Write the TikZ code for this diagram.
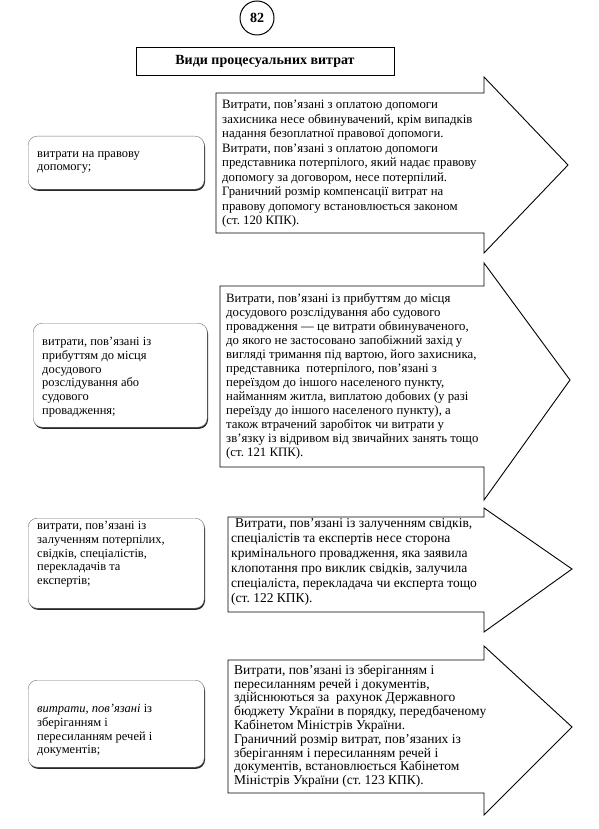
\documentclass[tikz,border=0pt]{standalone}
\usepackage{fontspec}
\setmainfont{Liberation Serif}
\usetikzlibrary{shadows}
\frenchspacing

\tikzset{
  kind/.style={draw=black!55, fill=white, rounded corners=9pt, anchor=north west,
    inner xsep=9pt, inner ysep=0pt, align=left, font=\fontsize{12.5}{13.8}\selectfont,
    drop shadow={shadow xshift=0.8pt, shadow yshift=-1.6pt, fill=black!85, opacity=1}},
  cost/.style={anchor=west, inner xsep=6pt, inner ysep=0pt, align=left},
  arrowline/.style={line width=0.9pt, line join=miter}
}

\begin{document}
\begin{tikzpicture}[x=1pt, y=-1pt]
            \useasboundingbox (0,0) rectangle (598,829);

            \node[draw, circle, line width=1pt, minimum size=34pt, inner sep=0pt, font=\bfseries\fontsize{14}{16}\selectfont] (page) at (257,18) {82};
            \node[draw, line width=0.9pt, minimum width=258pt, minimum height=28pt, font=\bfseries\fontsize{14}{16}\selectfont] (title) at (265,61) {Види процесуальних витрат};

            % left column
            \node[kind] (kind1) at (28,136) {\parbox[c][53pt][t]{158pt}{\raggedright\vspace*{15pt}витрати на правову\\допомогу;}};
            \node[kind] (kind2) at (33,323) {\parbox[c][104pt][t]{156pt}{\raggedright\vspace*{14pt}витрати, пов’язані із\\прибуттям до місця\\досудового\\розслідування або\\судового\\провадження;}};
            \node[kind] (kind3) at (28,518) {\parbox[c][90pt][t]{158pt}{\raggedright\vspace*{3pt}витрати, пов’язані із\\залученням потерпілих,\\свідків, спеціалістів,\\перекладачів та\\експертів;}};
            \node[kind] (kind4) at (28,680) {\parbox[c][87pt][t]{158pt}{\raggedright\vspace*{24pt}\textit{витрати, пов’язані} із\\зберіганням і\\пересиланням речей і\\документів;}};

            % arrows
            \draw[arrowline] (216,93) -- (484,93) -- (484,77) -- (568,165) -- (484,253) -- (484,233) -- (216,233) -- cycle;
            \node[cost, font=\fontsize{12.8}{14.5}\selectfont] (cost1) at (216,164) {Витрати, пов’язані з оплатою допомоги\\захисника несе обвинувачений, крім випадків\\надання безоплатної правової допомоги.\\Витрати, пов’язані з оплатою допомоги\\представника потерпілого, який надає правову\\допомогу за договором, несе потерпілий.\\Граничний розмір компенсації витрат на\\правову допомогу встановлюється законом\\(ст. 120 КПК).};

            \draw[arrowline] (220,286) -- (484,286) -- (484,263) -- (570,380) -- (484,500) -- (484,467) -- (220,467) -- cycle;
            \node[cost, font=\fontsize{12.8}{14}\selectfont] (cost2) at (220,376) {Витрати, пов’язані із прибуттям до місця\\досудового розслідування або судового\\провадження — це витрати обвинуваченого,\\до якого не застосовано запобіжний захід у\\вигляді тримання під вартою, його захисника,\\представника \ потерпілого, пов’язані з\\переїздом до іншого населеного пункту,\\найманням житла, виплатою добових (у разі\\переїзду до іншого населеного пункту), а\\також втрачений заробіток чи витрати у\\зв’язку із відривом від звичайних занять тощо\\(ст. 121 КПК).};

            \draw[arrowline] (228,517) -- (484,517) -- (484,508) -- (572,569) -- (484,632) -- (484,612) -- (228,612) -- cycle;
            \node[cost, inner xsep=3pt, font=\fontsize{13.5}{15}\selectfont] (cost3) at (228,562) {\hspace{4pt}Витрати, пов’язані із залученням свідків,\\спеціалістів та експертів несе сторона\\кримінального провадження, яка заявила\\клопотання про виклик свідків, залучила\\спеціаліста, перекладача чи експерта тощо\\(ст. 122 КПК).};

            \draw[arrowline] (228,660) -- (484,660) -- (484,646) -- (572,727) -- (484,815) -- (484,793) -- (228,793) -- cycle;
            \node[cost, font=\fontsize{13.5}{13.8}\selectfont] (cost4) at (228,726) {Витрати, пов’язані із зберіганням і\\пересиланням речей і документів,\\здійснюються за \ рахунок Державного\\бюджету України в порядку, передбаченому\\Кабінетом Міністрів України.\\Граничний розмір витрат, пов’язаних із\\зберіганням і пересиланням речей і\\документів, встановлюється Кабінетом\\Міністрів України (ст. 123 КПК).};
\end{tikzpicture}
\end{document}
